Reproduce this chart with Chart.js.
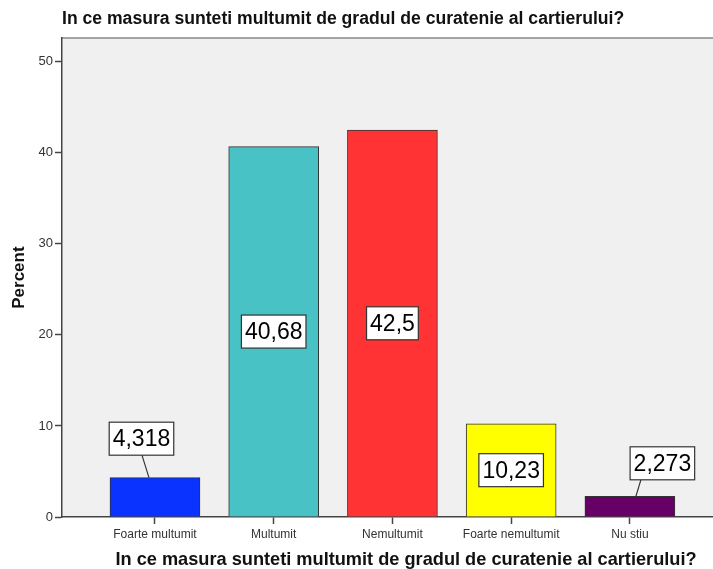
<!DOCTYPE html>
<html><head><meta charset="utf-8">
<script src="https://cdn.jsdelivr.net/npm/chart.js@4/dist/chart.umd.min.js"></script>
<style>html,body{margin:0;padding:0;background:#fff}#wrap{width:713px;height:569px}</style>
</head><body><div id="wrap"><canvas id="c" width="713" height="569"></canvas></div>
<script>
const chartTitle = 'In ce masura sunteti multumit de gradul de curatenie al cartierului?';
const xAxisTitle = 'In ce masura sunteti multumit de gradul de curatenie al cartierului?';
const yAxisTitle = 'Percent';
const categories = ['Foarte multumit', 'Multumit', 'Nemultumit', 'Foarte nemultumit', 'Nu stiu'];
const percentValues = [4.318, 40.68, 42.5, 10.23, 2.273];
const yTicks = [0, 10, 20, 30, 40, 50];
const barColors = ['#0a33ff', '#48c2c5', '#ff3333', '#ffff00', '#660066'];

const FONT = 'Arial, "Liberation Sans", sans-serif';
// label box placement (style): null = centered inside bar
const labelPlacement = [
  {dx: -13.5, dy: -39, sx: 0.5, ex: -6},
  null, null, null,
  {dx: 32.5, dy: -33, sx: -21.5, ex: 6}
];

const bgPlugin = {
  id: 'plotBg',
  beforeDraw(chart) {
    const {ctx, chartArea: a} = chart;
    ctx.save();
    ctx.fillStyle = '#f0f0f0';
    ctx.fillRect(a.left, a.top, a.right - a.left, a.bottom - a.top);
    ctx.strokeStyle = '#8a8a8a';
    ctx.lineWidth = 1.5;
    ctx.beginPath();
    ctx.moveTo(a.left, a.top);
    ctx.lineTo(a.right, a.top);
    ctx.stroke();
    ctx.restore();
  },
  afterDraw(chart) {
    const ctx = chart.ctx;
    ctx.save();
    ctx.font = 'bold 18.2px ' + FONT;
    ctx.fillStyle = '#111';
    ctx.textAlign = 'center';
    ctx.textBaseline = 'middle';
    ctx.fillText(xAxisTitle, 406, 560);
    ctx.restore();
  }
};

const labelPlugin = {
  id: 'valueBoxes',
  afterDatasetsDraw(chart) {
    const ctx = chart.ctx;
    const meta = chart.getDatasetMeta(0);
    ctx.save();
    ctx.font = '23px ' + FONT;
    meta.data.forEach((bar, i) => {
      const txt = String(percentValues[i]).replace('.', ',');
      const w = ctx.measureText(txt).width + 7;
      const h = 33;
      const p = labelPlacement[i];
      let cx, cy;
      if (p) {
        cx = bar.x + p.dx;
        cy = bar.y + p.dy;
        ctx.strokeStyle = '#333';
        ctx.lineWidth = 1.2;
        ctx.beginPath();
        ctx.moveTo(cx + p.sx, cy + h / 2);
        ctx.lineTo(bar.x + p.ex, bar.y);
        ctx.stroke();
      } else {
        cx = bar.x;
        cy = (bar.y + bar.base) / 2;
      }
      ctx.fillStyle = '#fff';
      ctx.fillRect(cx - w / 2, cy - h / 2, w, h);
      ctx.strokeStyle = '#333';
      ctx.lineWidth = 1.2;
      ctx.strokeRect(cx - w / 2, cy - h / 2, w, h);
      ctx.fillStyle = '#000';
      ctx.textAlign = 'center';
      ctx.textBaseline = 'middle';
      ctx.fillText(txt, cx, cy + 1);
    });
    ctx.restore();
  }
};

new Chart(document.getElementById('c'), {
  type: 'bar',
  data: {
    datasets: [{
      data: percentValues.map((v, i) => ({x: i, y: v})),
      backgroundColor: barColors,
      borderColor: '#333',
      borderWidth: 1,
      barThickness: 90
    }]
  },
  options: {
    responsive: false,
    animation: false,
    devicePixelRatio: 1,
    layout: {padding: 0},
    plugins: {
      legend: {display: false},
      tooltip: {enabled: false},
      title: {
        display: true,
        text: chartTitle,
        align: 'start',
        fullSize: false,
        color: '#111',
        font: {family: FONT, size: 17.6, weight: 'bold'},
        padding: {top: 9, bottom: 8}
      }
    },
    scales: {
      x: {
        type: 'linear',
        min: -0.783,
        max: 4.70,
        offset: false,
        afterBuildTicks: s => { s.ticks = categories.map((_, i) => ({value: i})); },
        afterFit: s => { s.height = 52; },
        ticks: {
          autoSkip: false, maxRotation: 0, padding: 3,
          color: '#333', font: {family: FONT, size: 12},
          callback: v => categories[v]
        },
        grid: {display: true, offset: false, drawOnChartArea: false, drawTicks: true, tickLength: 7, tickColor: '#444', tickWidth: 1.5},
        border: {display: true, color: '#444', width: 1.5}
      },
      y: {
        min: 0,
        max: 52.6,
        afterBuildTicks: s => { s.ticks = yTicks.map(v => ({value: v})); },
        afterFit: s => { s.width = 62; },
        ticks: {color: '#333', font: {family: FONT, size: 13}, padding: 2},
        grid: {display: true, drawOnChartArea: false, drawTicks: true, tickLength: 7, tickColor: '#444', tickWidth: 1.5},
        border: {display: true, color: '#444', width: 1.5},
        title: {
          display: true, text: yAxisTitle, color: '#111',
          font: {family: FONT, size: 17, weight: 'bold'},
          padding: {top: 8.8, bottom: 0}
        }
      }
    }
  },
  plugins: [bgPlugin, labelPlugin]
});
</script>
</body></html>
